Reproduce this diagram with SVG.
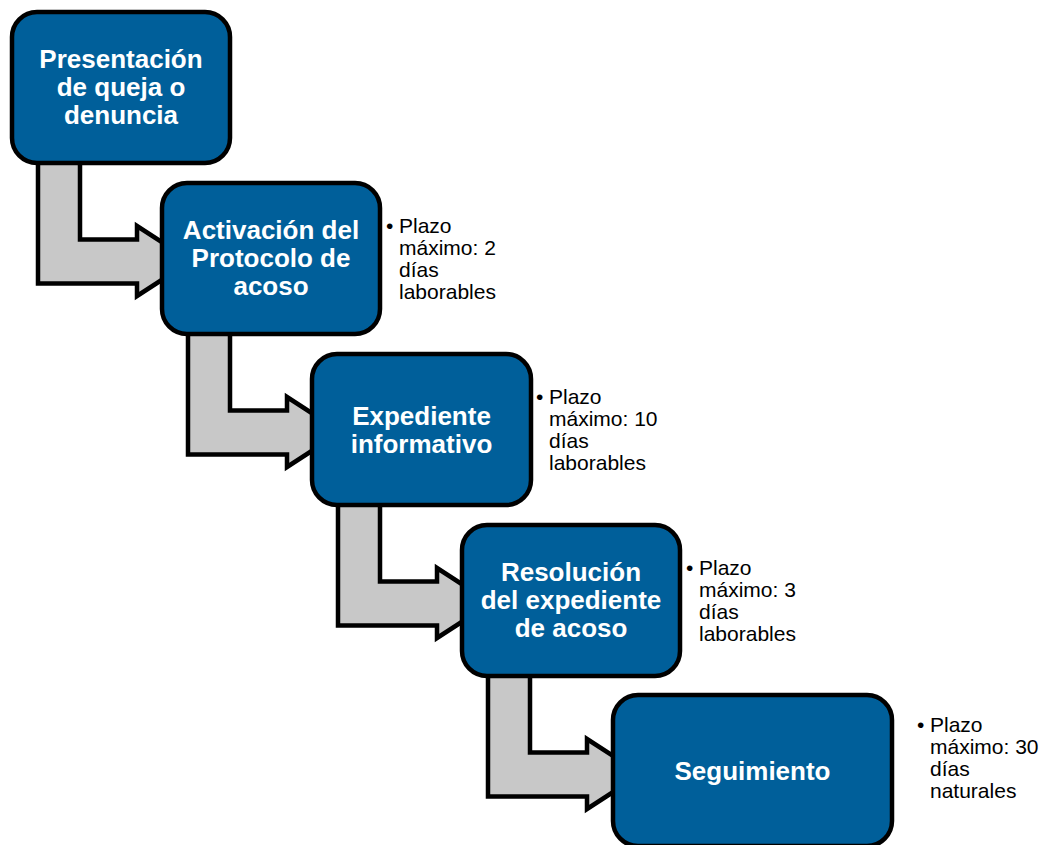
<svg xmlns="http://www.w3.org/2000/svg" width="1043" height="845" viewBox="0 0 1043 845">
<style>
.box{fill:#005F9A;stroke:#000;stroke-width:4.5}
.arr{fill:#C8C8C8;stroke:#000;stroke-width:4.5;stroke-linejoin:miter}
.t{font-family:"Liberation Sans",Arial,sans-serif;font-weight:bold;font-size:26px;fill:#fff;text-anchor:middle}
.n{font-family:"Liberation Sans",Arial,sans-serif;font-size:21px;fill:#000}
</style>
<rect width="1043" height="845" fill="#fff"/>
<g id="connectors">
<path class="arr" d="M38,150 V283.5 H137 V296 L191,261 L137,226 V239.5 H80 V150 Z"/>
<path class="arr" transform="translate(150,171)" d="M38,150 V283.5 H137 V296 L191,261 L137,226 V239.5 H80 V150 Z"/>
<path class="arr" transform="translate(300,342)" d="M38,150 V283.5 H137 V296 L191,261 L137,226 V239.5 H80 V150 Z"/>
<path class="arr" transform="translate(450,513)" d="M38,150 V283.5 H137 V296 L191,261 L137,226 V239.5 H80 V150 Z"/>
</g>
<g id="n1">
<rect class="box" x="12" y="12" width="218" height="151" rx="25"/>
<text class="t"><tspan x="121" y="68">Presentación</tspan><tspan x="121" y="96">de queja o</tspan><tspan x="121" y="124">denuncia</tspan></text>
</g>
<g id="n2">
<rect class="box" x="162" y="183" width="218" height="151" rx="25"/>
<text class="t"><tspan x="271" y="239">Activación del</tspan><tspan x="271" y="267">Protocolo de</tspan><tspan x="271" y="295">acoso</tspan></text>
<text class="n"><tspan x="386" y="233">•</tspan><tspan x="399" y="233">Plazo</tspan><tspan x="399" y="255">máximo: 2</tspan><tspan x="399" y="277">días</tspan><tspan x="399" y="299">laborables</tspan></text>
</g>
<g id="n3">
<rect class="box" x="312" y="354" width="219" height="151" rx="25"/>
<text class="t"><tspan x="421.5" y="425">Expediente</tspan><tspan x="421.5" y="453">informativo</tspan></text>
<text class="n"><tspan x="536" y="404">•</tspan><tspan x="549" y="404">Plazo</tspan><tspan x="549" y="426">máximo: 10</tspan><tspan x="549" y="448">días</tspan><tspan x="549" y="470">laborables</tspan></text>
</g>
<g id="n4">
<rect class="box" x="462" y="525" width="218" height="151" rx="25"/>
<text class="t"><tspan x="571" y="581">Resolución</tspan><tspan x="571" y="609">del expediente</tspan><tspan x="571" y="637">de acoso</tspan></text>
<text class="n"><tspan x="686" y="575">•</tspan><tspan x="699" y="575">Plazo</tspan><tspan x="699" y="597">máximo: 3</tspan><tspan x="699" y="619">días</tspan><tspan x="699" y="641">laborables</tspan></text>
</g>
<g id="n5">
<rect class="box" x="613" y="695" width="279" height="151" rx="25"/>
<text class="t" x="752.5" y="780">Seguimiento</text>
<text class="n"><tspan x="917" y="732">•</tspan><tspan x="930" y="732">Plazo</tspan><tspan x="930" y="754">máximo: 30</tspan><tspan x="930" y="776">días</tspan><tspan x="930" y="798">naturales</tspan></text>
</g>
</svg>
